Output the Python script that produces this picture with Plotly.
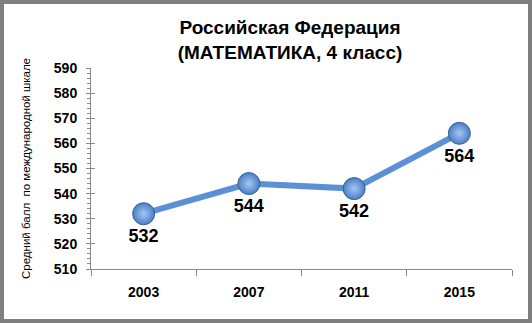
import plotly.graph_objects as go

years = ["2003", "2007", "2011", "2015"]
scores = [532, 544, 542, 564]
y_ticks = [510, 520, 530, 540, 550, 560, 570, 580, 590]

W, H = 532, 323
ml, mr, mt, mb = 91, 20, 68, 54
pw, ph = W - ml - mr, H - mt - mb

fig = go.Figure()
fig.add_trace(go.Scatter(
    x=years, y=scores, mode="lines+markers+text",
    line=dict(color="#5B8FD6", width=6),
    marker=dict(size=22, color="#4A7EC7",
                gradient=dict(type="radial", color="#A4C8F2"),
                line=dict(color="#3A5F92", width=1)),
    text=["<b>%d</b>" % v for v in scores], textposition="bottom center",
    textfont=dict(family="Liberation Sans, Arial", size=18, color="black"),
    cliponaxis=False, showlegend=False,
))
# invisible trace for second y axis (crossing major ticks)
fig.add_trace(go.Scatter(x=years, y=scores, yaxis="y2", mode="none",
                         showlegend=False, hoverinfo="skip"))

fig.update_layout(
    width=W, height=H,
    margin=dict(l=ml, r=mr, t=mt, b=mb),
    paper_bgcolor="white", plot_bgcolor="white",
    title=dict(text="<b>Российская Федерация<br>(МАТЕМАТИКА, 4 класс)</b>",
               x=290 / W, xanchor="center", y=1 - 34 / H, yanchor="middle",
               font=dict(family="Liberation Sans, Arial", size=19, color="black")),
    xaxis=dict(type="category", range=[-0.5, 3.5], showgrid=False, showline=True,
               linecolor="#888888", linewidth=1, ticks="outside", ticklen=6,
               tickcolor="#888888", tickson="boundaries",
               tickvals=years, ticktext=["<b>%s</b>" % y for y in years],
               tickfont=dict(family="Liberation Sans, Arial", size=14, color="black"),
               ticklabelstandoff=10, zeroline=False),
    yaxis=dict(range=[510, 590], showgrid=False, showline=True,
               tickvals=y_ticks, ticktext=["<b>%d</b>" % v for v in y_ticks],
               linecolor="#888888", linewidth=1, ticks="outside", ticklen=4,
               tickcolor="#888888",
               minor=dict(dtick=2, ticks="outside", ticklen=3, tickcolor="#888888"),
               tickfont=dict(family="Liberation Sans, Arial", size=14, color="black"),
               ticklabelstandoff=6, zeroline=False,
               title=dict(text="Средний балл  по международной шкале",
                          font=dict(family="Liberation Sans, Arial", size=11.5, color="black"),
                          standoff=20)),
    yaxis2=dict(range=[510, 590], dtick=10, overlaying="y", side="left",
                showgrid=False, showline=False, ticks="inside", ticklen=4,
                tickcolor="#888888", showticklabels=False, zeroline=False),
    shapes=[dict(type="rect", xref="paper", yref="paper",
                 x0=-ml / pw + 2 / pw, x1=1 + mr / pw - 2 / pw,
                 y0=-mb / ph + 2 / ph, y1=1 + mt / ph - 2 / ph,
                 line=dict(color="#7F7F7F", width=4), layer="above")],
)

fig.write_html("out.html")
